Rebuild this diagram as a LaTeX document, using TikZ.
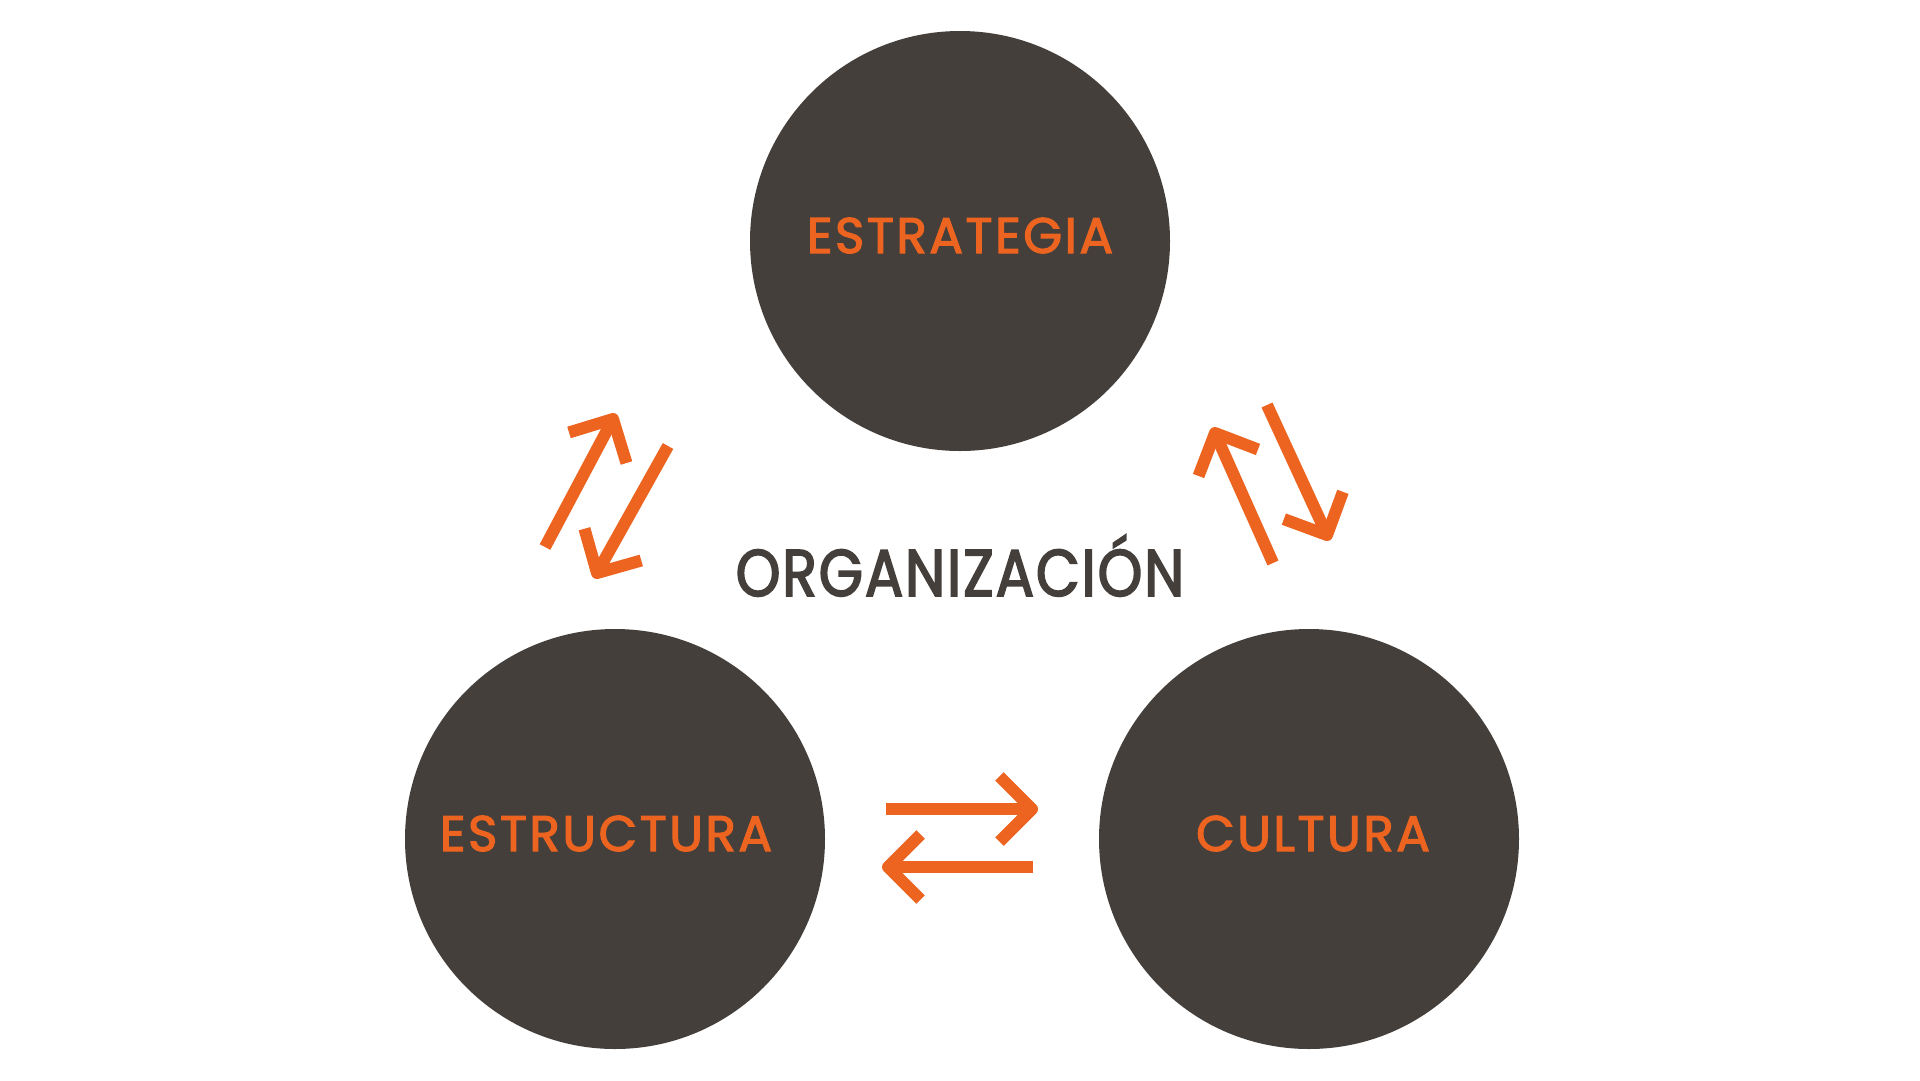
\documentclass[tikz,border=0pt]{standalone}
\usepackage{fontspec}
\setmainfont{Poppins}
\newfontfamily\lblfont{Poppins}[LetterSpace=5,FakeBold=2.4]
\newfontfamily\orgfont{Poppins}[FakeStretch=0.86,LetterSpace=3,FakeBold=2.6]
\usetikzlibrary{calc}
\definecolor{circ}{HTML}{443F3B}
\definecolor{orng}{HTML}{EC6420}
\tikzset{
  bigcirc/.style={circle, fill=circ, minimum size=420pt, inner sep=0pt},
  lbl/.style={text=orng, anchor=base, inner sep=0pt, font=\lblfont\fontsize{50}{50}\selectfont},
  center/.style={text=circ, anchor=base, inner sep=0pt, font=\orgfont\fontsize{66}{66}\selectfont},
  arr/.style={draw=orng, line width=12pt, line join=round, line cap=butt}
}
\newcommand\flowarrow[2]{%
  \draw[arr] (#1) -- (#2);
  \draw[arr] ($(#2)!46pt!45:(#1)$) -- (#2) -- ($(#2)!46pt!-45:(#1)$);
}
\begin{document}
\begin{tikzpicture}[x=1pt,y=-1pt]
\useasboundingbox[fill=white] (0,0) rectangle (1920,1080);
\node[bigcirc] (estr) at (960,241) {};
\node[bigcirc] (estc) at (615,839) {};
\node[bigcirc] (cult) at (1309,839) {};
\node[lbl] (testr) at (960,253) {ESTRATEGIA};
\node[lbl] (testc) at (606,851) {ESTRUCTURA};
\node[lbl] (tcult) at (1313,851) {CULTURA};
\node[center] (org) at (960,596) {ORGANIZACIÓN};
% left pair
\coordinate (a1) at (545,547); \coordinate (a2) at (613,419);
\coordinate (b1) at (668,446); \coordinate (b2) at (597,573);
% right pair
\coordinate (c1) at (1273,563); \coordinate (c2) at (1215,433);
\coordinate (d1) at (1267,405); \coordinate (d2) at (1327,535);
% bottom pair
\coordinate (e1) at (886,809); \coordinate (e2) at (1032,809);
\coordinate (f1) at (1033,867); \coordinate (f2) at (888,867);
\flowarrow{a1}{a2}
\flowarrow{b1}{b2}
\flowarrow{c1}{c2}
\flowarrow{d1}{d2}
\flowarrow{e1}{e2}
\flowarrow{f1}{f2}
\end{tikzpicture}
\end{document}
